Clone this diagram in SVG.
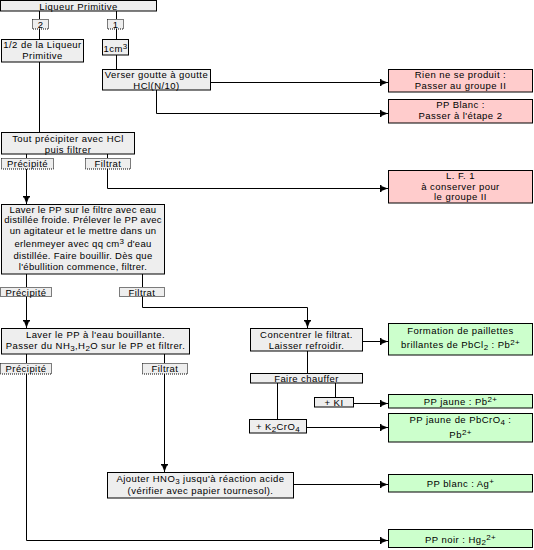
<svg xmlns="http://www.w3.org/2000/svg" width="534" height="550" viewBox="0 0 534 550">
<style>
text{font-family:"Liberation Sans",Arial,sans-serif;font-size:9.5px;letter-spacing:0.45px;fill:#000;text-anchor:middle}
#laver1 text{letter-spacing:0.3px}
.g{fill:#eeeeee;stroke:#000;stroke-width:1}
.r{fill:#ffcccc;stroke:#000;stroke-width:1}
.v{fill:#ccffcc;stroke:#000;stroke-width:1}
.t{fill:#eeeeee;stroke:#000;stroke-width:1;stroke-dasharray:1,1}
.c{fill:none;stroke:#000;stroke-width:1}
.a{marker-end:url(#ah)}
.sb{font-size:8px;letter-spacing:0.3px}
</style>
<defs>
<marker id="ah" markerUnits="userSpaceOnUse" markerWidth="9" markerHeight="8" refX="8" refY="4" orient="auto">
<path d="M0,1 L8,4 L0,7 z M0,0.5 L1.5,0.5 L1.5,7.5 L0,7.5 z" fill="#000"/>
</marker>
</defs>
<g id="connectors">
<path class="c" d="M39.5,11 V19 M39.5,29 V39 M116.5,11 V19 M116.5,29 V39 M116.5,55 V69"/>
<path class="c" d="M39.5,62 V132"/>
<path class="c a" d="M211,82.5 H388"/>
<path class="c a" d="M156.5,90 V113.5 H388"/>
<path class="c" d="M26.5,154 V158 M107.5,154 V158"/>
<path class="c a" d="M107.5,169 V188.5 H388"/>
<path class="c a" d="M26.5,169 V204"/>
<path class="c" d="M26.5,274 V287 M142.5,274 V287"/>
<path class="c a" d="M26.5,296 V328"/>
<path class="c a" d="M142.5,296 V307.5 H307.5 V328"/>
<path class="c" d="M26.5,354 V363 M164.5,354 V363"/>
<path class="c a" d="M164.5,374 V472"/>
<path class="c a" d="M26.5,374 V540.5 H388"/>
<path class="c a" d="M363,341.5 H388"/>
<path class="c" d="M307.5,351 V373 M335.5,383 V397 M277.5,383 V419"/>
<path class="c a" d="M354,403.5 H388"/>
<path class="c a" d="M307,427.5 H388"/>
<path class="c a" d="M294,484.5 H388"/>
</g>
<g id="liqueur"><rect class="g" x="0.5" y="0.5" width="156" height="10.5"/><text x="78.5" y="9.5">Liqueur Primitive</text></g>
<g id="tag2"><rect class="t" x="32.5" y="19.5" width="16" height="9.5"/><text x="40.5" y="28">2</text></g>
<g id="tag1"><rect class="t" x="107.5" y="19.5" width="16" height="9.5"/><text x="115.5" y="28">1</text></g>
<g id="demi"><rect class="g" x="1.5" y="39.5" width="82" height="22.5"/><text x="42.5" y="48.3">1/2 de la Liqueur</text><text x="42.5" y="59">Primitive</text></g>
<g id="cm3"><rect class="g" x="102.5" y="39.5" width="26" height="15.5"/><text x="115.5" y="52">1cm<tspan class="sb" baseline-shift="3.5px">3</tspan></text></g>
<g id="verser"><rect class="g" x="102.5" y="69.5" width="108" height="20.5"/><text x="156.5" y="77.8">Verser goutte à goutte</text><text x="156.5" y="88.5">HCl(N/10)</text></g>
<g id="rien"><rect class="r" x="388.5" y="69.5" width="144" height="22.5"/><text x="460.5" y="78">Rien ne se produit :</text><text x="460.5" y="88.7">Passer au groupe II</text></g>
<g id="ppblanc1"><rect class="r" x="388.5" y="99.5" width="144" height="23.5"/><text x="460.5" y="108">PP Blanc :</text><text x="460.5" y="119">Passer à l'étape 2</text></g>
<g id="tout"><rect class="g" x="1.5" y="132.5" width="133" height="21.5"/><text x="68" y="142.2">Tout précipiter avec HCl</text><text x="68" y="152.9">puis filtrer</text></g>
<g id="prec1"><rect class="t" x="1.5" y="158.5" width="52" height="10.5"/><text x="27.5" y="167">Précipité</text></g>
<g id="filt1"><rect class="t" x="85.5" y="158.5" width="45" height="10.5"/><text x="108" y="167">Filtrat</text></g>
<g id="lf1"><rect class="r" x="388.5" y="170.5" width="144" height="32.5"/><text x="460.5" y="178.8">L. F. 1</text><text x="460.5" y="189.6">à conserver pour</text><text x="460.5" y="200.4">le groupe II</text></g>
<g id="laver1"><rect class="g" x="1.5" y="204.5" width="163" height="69.5"/>
<text x="83" y="212.5">Laver le PP sur le filtre avec eau</text>
<text x="83" y="223.3">distillée froide. Prélever le PP avec</text>
<text x="83" y="234.2">un agitateur et le mettre dans un</text>
<text x="83" y="247">erlenmeyer avec qq cm<tspan class="sb" baseline-shift="3.5px">3</tspan> d'eau</text>
<text x="83" y="259">distillée. Faire bouillir. Dès que</text>
<text x="83" y="270.3">l'ébullition commence, filtrer.</text></g>
<g id="prec2"><rect class="t" x="0.5" y="287.5" width="51" height="9"/><text x="26" y="295.5">Précipité</text></g>
<g id="filt2"><rect class="t" x="119.5" y="287.5" width="45" height="9"/><text x="142" y="295.5">Filtrat</text></g>
<g id="laver2"><rect class="g" x="1.5" y="328.5" width="188" height="25.5"/><text x="95.5" y="337.8">Laver le PP à l'eau bouillante.</text><text x="95.5" y="348.6">Passer du NH<tspan class="sb" baseline-shift="-2px">3</tspan>,H<tspan class="sb" baseline-shift="-2px">2</tspan>O sur le PP et filtrer.</text></g>
<g id="prec3"><rect class="t" x="0.5" y="363.5" width="51" height="10.5"/><text x="26" y="372">Précipité</text></g>
<g id="filt3"><rect class="t" x="142.5" y="363.5" width="45" height="10.5"/><text x="165" y="372">Filtrat</text></g>
<g id="concentrer"><rect class="g" x="250.5" y="328.5" width="112" height="22.5"/><text x="306.5" y="337.8">Concentrer le filtrat.</text><text x="306.5" y="348.6">Laisser refroidir.</text></g>
<g id="formation"><rect class="v" x="388.5" y="323.5" width="144" height="31.5"/><text x="460.5" y="334">Formation de paillettes</text><text x="460.5" y="348">brillantes de PbCl<tspan class="sb" baseline-shift="-2px">2</tspan> : Pb<tspan class="sb" baseline-shift="3.5px">2+</tspan></text></g>
<g id="chauffer"><rect class="g" x="250.5" y="373.5" width="112" height="9.5"/><text x="306.5" y="382">Faire chauffer</text></g>
<g id="ki"><rect class="g" x="314.5" y="397.5" width="39" height="9.5"/><text x="334" y="406">+ KI</text></g>
<g id="ppjaune1"><rect class="v" x="388.5" y="394.5" width="144" height="13.5"/><text x="460.5" y="405">PP jaune : Pb<tspan class="sb" baseline-shift="3.5px">2+</tspan></text></g>
<g id="k2cro4"><rect class="g" x="249.5" y="419.5" width="57" height="13.5"/><text x="278" y="429.5">+ K<tspan class="sb" baseline-shift="-2px">2</tspan>CrO<tspan class="sb" baseline-shift="-2px">4</tspan></text></g>
<g id="ppjaune2"><rect class="v" x="388.5" y="413.5" width="144" height="28.5"/><text x="460.5" y="422.5">PP jaune de PbCrO<tspan class="sb" baseline-shift="-2px">4</tspan> :</text><text x="460.5" y="438">Pb<tspan class="sb" baseline-shift="3.5px">2+</tspan></text></g>
<g id="ajouter"><rect class="g" x="107.5" y="472.5" width="186" height="25.5"/><text x="200.5" y="482.3">Ajouter HNO<tspan class="sb" baseline-shift="-2px">3</tspan> jusqu'à réaction acide</text><text x="200.5" y="494.3">(vérifier avec papier tournesol).</text></g>
<g id="ppblanc2"><rect class="v" x="388.5" y="474.5" width="144" height="17.5"/><text x="460.5" y="487">PP blanc : Ag<tspan class="sb" baseline-shift="3.5px">+</tspan></text></g>
<g id="ppnoir"><rect class="v" x="388.5" y="529.5" width="144" height="18"/><text x="460.5" y="543">PP noir : Hg<tspan class="sb" baseline-shift="-2px">2</tspan><tspan class="sb" baseline-shift="3.5px">2+</tspan></text></g>
</svg>
